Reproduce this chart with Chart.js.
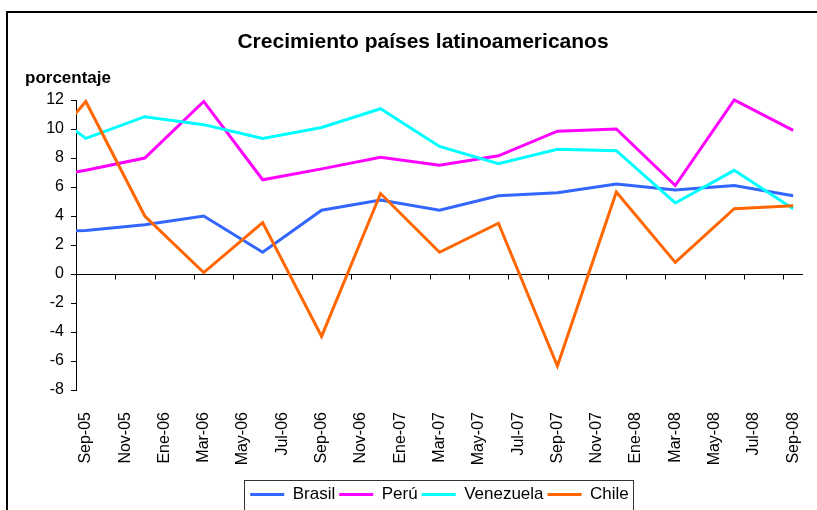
<!DOCTYPE html>
<html>
<head>
<meta charset="utf-8">
<script src="https://cdn.jsdelivr.net/npm/chart.js@4/dist/chart.umd.min.js"></script>
<style>
    html, body { margin: 0; padding: 0; background: #fff; }
    canvas { display: block; }
</style>
</head>
<body>
<canvas id="grafico" width="817" height="510"></canvas>
<script>
// Trimestres (Jun-05 queda fuera del eje, solo se ve el tramo que entra)
const trimestres = ['Jun-05', 'Sep-05', 'Dic-05', 'Mar-06', 'Jun-06', 'Sep-06', 'Dic-06',
    'Mar-07', 'Jun-07', 'Sep-07', 'Dic-07', 'Mar-08', 'Jun-08', 'Sep-08'];

// Etiquetas del eje x (cada dos meses)
const etiquetasMes = ['Sep-05', 'Nov-05', 'Ene-06', 'Mar-06', 'May-06', 'Jul-06', 'Sep-06',
    'Nov-06', 'Ene-07', 'Mar-07', 'May-07', 'Jul-07', 'Sep-07', 'Nov-07', 'Ene-08',
    'Mar-08', 'May-08', 'Jul-08', 'Sep-08'];

const brasil    = [2.9, 3.0, 3.4, 4.0, 1.5, 4.4, 5.1, 4.4, 5.4, 5.6, 6.2, 5.8, 6.1, 5.4];
const peru      = [6.45, 7.15, 8.0, 11.9, 6.5, 7.25, 8.05, 7.5, 8.15, 9.85, 10.0, 6.1, 12.0, 9.9];
const venezuela = [12.4, 9.35, 10.85, 10.3, 9.35, 10.1, 11.4, 8.8, 7.6, 8.6, 8.5, 4.9, 7.15, 4.5];
const chile     = [7.1, 11.9, 4.0, 0.1, 3.55, -4.3, 5.55, 1.5, 3.5, -6.35, 5.65, 0.8, 4.5, 4.7];

const yTicks = [-8, -6, -4, -2, 0, 2, 4, 6, 8, 10, 12];

const FUENTE = 'Liberation Sans, Arial, sans-serif';

// mes 0 = Sep-05; cada trimestre son 3 meses
function aPuntos(valores) {
    return valores.map((v, i) => ({ x: (i - 1) * 3, y: v }));
}

// marcas del eje entre meses, cada dos meses
const marcas = etiquetasMes.map((_, k) => k * 2 - 0.5);

function serie(label, valores, color, orden) {
    return {
        label: label,
        data: aPuntos(valores),
        borderColor: color,
        backgroundColor: color,
        borderWidth: 3,
        pointRadius: 0,
        tension: 0,
        order: orden,
        clip: { left: 0, top: 3, right: 3, bottom: 3 }
    };
}

const decoracion = {
    id: 'decoracion',
    beforeDraw(chart) {
        const ctx = chart.ctx;
        ctx.save();
        ctx.fillStyle = '#000';
        ctx.textBaseline = 'middle';
        ctx.textAlign = 'center';
        ctx.font = 'bold 21px ' + FUENTE;
        ctx.fillText('Crecimiento países latinoamericanos', 423, 42);
        ctx.textAlign = 'left';
        ctx.font = 'bold 17px ' + FUENTE;
        ctx.fillText('porcentaje', 25, 78);
        ctx.restore();
    },
    beforeDatasetsDraw(chart) {
        const { ctx, chartArea, scales: { x, y } } = chart;
        const y0 = Math.round(y.getPixelForValue(0)) + 0.5;
        ctx.save();
        ctx.strokeStyle = '#000';
        ctx.lineWidth = 1;
        ctx.beginPath();
        ctx.moveTo(chartArea.left, y0);
        ctx.lineTo(chartArea.right, y0);
        marcas.forEach(v => {
            const px = Math.round(x.getPixelForValue(v)) + 0.5;
            ctx.moveTo(px, y0);
            ctx.lineTo(px, y0 + 5);
        });
        ctx.stroke();
        ctx.restore();
    },
    afterDraw(chart) {
        const ctx = chart.ctx;
        ctx.save();
        ctx.strokeStyle = '#000';
        ctx.lineWidth = 2;
        ctx.strokeRect(7, 12, 900, 600);

        // recuadro de la leyenda
        const cajas = chart.legend.legendHitBoxes;
        if (cajas && cajas.length) {
            const izq = Math.min(...cajas.map(c => c.left));
            const der = Math.max(...cajas.map(c => c.left + c.width));
            const arriba = cajas[0].top;
            ctx.lineWidth = 1;
            ctx.strokeStyle = '#333';
            ctx.strokeRect(Math.round(izq - 6) + 0.5, Math.round(arriba - 6) + 0.5, Math.round(der - izq + 10), 60);
        }
        ctx.restore();
    }
};

document.addEventListener('DOMContentLoaded', function() {
    const ctx = document.getElementById('grafico').getContext('2d');
    new Chart(ctx, {
        type: 'line',
        data: {
            datasets: [
                serie('Brasil', brasil, '#3366ff', 4),
                serie('Perú', peru, '#ff00ff', 3),
                serie('Venezuela', venezuela, '#00ffff', 2),
                serie('Chile', chile, '#ff6600', 1)
            ]
        },
        options: {
            responsive: false,
            animation: false,
            devicePixelRatio: 1,
            layout: {
                padding: { left: 0, right: 14, top: 100, bottom: 8 }
            },
            plugins: {
                title: { display: false },
                tooltip: { enabled: false },
                legend: {
                    position: 'bottom',
                    fullSize: false,
                    maxHeight: 20,
                    labels: {
                        usePointStyle: true,
                        pointStyle: 'line',
                        pointStyleWidth: 34,
                        boxHeight: 3,
                        padding: 4,
                        color: '#000',
                        font: { family: FUENTE, size: 17 },
                        sort: (a, b) => a.datasetIndex - b.datasetIndex
                    }
                }
            },
            scales: {
                x: {
                    type: 'linear',
                    min: -0.5,
                    max: 36.5,
                    afterBuildTicks: scale => {
                        scale.ticks = etiquetasMes.map((_, k) => ({ value: k * 2 }));
                    },
                    afterFit: scale => {
                        scale.height = 92;
                        scale.paddingLeft = 0;
                        scale.paddingRight = 0;
                    },
                    grid: { display: false },
                    border: { display: false },
                    ticks: {
                        autoSkip: false,
                        maxRotation: 90,
                        minRotation: 90,
                        padding: 14,
                        color: '#000',
                        font: { family: FUENTE, size: 16 },
                        callback: (value, index) => etiquetasMes[index]
                    }
                },
                y: {
                    min: -8,
                    max: 12,
                    afterBuildTicks: scale => {
                        scale.ticks = yTicks.map(v => ({ value: v }));
                    },
                    afterFit: scale => { scale.width = 76; },
                    grid: {
                        drawOnChartArea: false,
                        drawTicks: true,
                        tickLength: 5,
                        color: '#000'
                    },
                    border: { color: '#000', width: 1 },
                    ticks: {
                        padding: 7,
                        color: '#000',
                        font: { family: FUENTE, size: 16 }
                    }
                }
            }
        },
        plugins: [decoracion]
    });
});
</script>
</body>
</html>
